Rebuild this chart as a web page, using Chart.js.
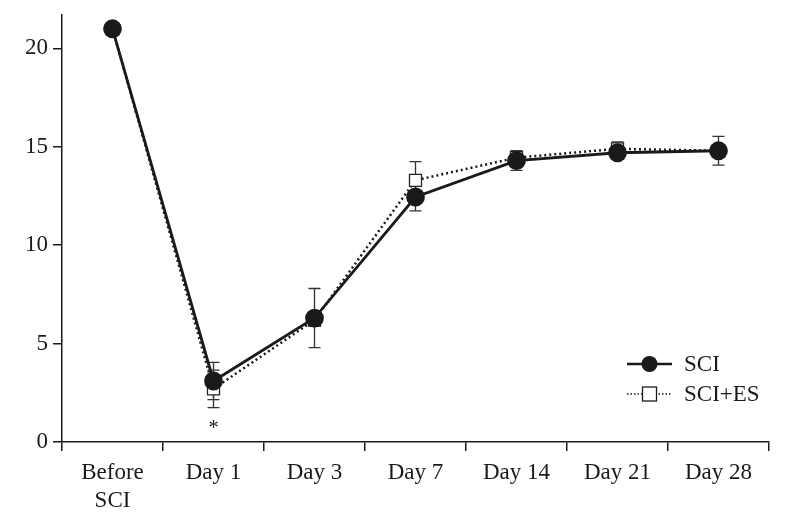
<!DOCTYPE html>
<html lang="en">
<head>
  <meta charset="UTF-8" />
  <title>SCI vs SCI+ES</title>
  <style>
    * { margin: 0; padding: 0; box-sizing: border-box; }
    body { background: #fff; width: 787px; height: 526px; overflow: hidden; }
    .chart-container { position: relative; width: 787px; height: 526px; }
  </style>
</head>
<body>
  <div class="chart-container">
    <canvas id="sciChart" width="787" height="526"></canvas>
  </div>
  <script src="https://cdn.jsdelivr.net/npm/chart.js"></script>
  <script>
    // Data
    const categories = [["Before", "SCI"], "Day 1", "Day 3", "Day 7", "Day 14", "Day 21", "Day 28"];
    const sciValues   = [21.0, 3.1, 6.3, 12.45, 14.3, 14.7, 14.8];
    const sciErrors   = [0.2, 0.95, 1.5, 0.7, 0.5, 0.3, 0.73];
    const sciEsValues = [21.0, 2.7, 6.2, 13.3, 14.45, 14.9, 14.8];
    const sciEsErrors = [0.2, 0.95, 0.3, 0.95, 0.3, 0.35, 0.3];
    const yTicks = [0, 5, 10, 15, 20];
    const yMax = 21.7;
    // significance marker: category index and value
    const starIndex = 1;
    const starValue = 0.9;

    const ink = "#1a1a1a";
    const serif = "'Liberation Serif', 'DejaVu Serif', serif";

    // error bars drawn behind the markers
    const errorBars = {
      id: "errorBars",
      beforeDatasetsDraw(chart) {
        const ctx = chart.ctx;
        const xs = chart.scales.x, ys = chart.scales.y;
        const sets = [[sciValues, sciErrors], [sciEsValues, sciEsErrors]];
        ctx.save();
        ctx.strokeStyle = "#333";
        ctx.lineWidth = 1.3;
        sets.forEach(([vals, errs]) => {
          vals.forEach((v, i) => {
            const x = xs.getPixelForValue(i);
            const top = ys.getPixelForValue(v + errs[i]);
            const bot = ys.getPixelForValue(v - errs[i]);
            ctx.beginPath();
            ctx.moveTo(x, top); ctx.lineTo(x, bot);
            ctx.moveTo(x - 6, top); ctx.lineTo(x + 6, top);
            ctx.moveTo(x - 6, bot); ctx.lineTo(x + 6, bot);
            ctx.stroke();
          });
        });
        ctx.restore();
      },
      afterDatasetsDraw(chart) {
        const ctx = chart.ctx;
        const xs = chart.scales.x, ys = chart.scales.y;
        ctx.save();
        ctx.fillStyle = ink;
        ctx.font = "20px " + serif;
        ctx.textAlign = "center";
        ctx.textBaseline = "middle";
        ctx.fillText("*", xs.getPixelForValue(starIndex), ys.getPixelForValue(starValue) + 4);
        ctx.restore();
      }
    };

    // legend: line with marker, lower right
    const lineLegend = {
      id: "lineLegend",
      afterDraw(chart) {
        const ctx = chart.ctx;
        const a = chart.chartArea;
        const x0 = a.right - 142, x1 = a.right - 97;
        const rows = [
          { y: a.top + 349, label: "SCI", dash: [], style: "circle", r: 8 },
          { y: a.top + 379, label: "SCI+ES", dash: [1.5, 2], style: "rect", r: 9 }
        ];
        ctx.save();
        rows.forEach(row => {
          ctx.strokeStyle = ink;
          ctx.lineWidth = row.dash.length ? 1.5 : 2.5;
          ctx.setLineDash(row.dash);
          ctx.beginPath();
          ctx.moveTo(x0, row.y); ctx.lineTo(x1, row.y);
          ctx.stroke();
          ctx.setLineDash([]);
          const cx = (x0 + x1) / 2;
          if (row.style === "circle") {
            ctx.fillStyle = ink;
            ctx.beginPath();
            ctx.arc(cx, row.y, row.r, 0, Math.PI * 2);
            ctx.fill();
          } else {
            ctx.fillStyle = "#fff";
            ctx.lineWidth = 1.3;
            ctx.fillRect(cx - 7, row.y - 7, 14, 14);
            ctx.strokeRect(cx - 7, row.y - 7, 14, 14);
          }
          ctx.fillStyle = ink;
          ctx.font = "23px " + serif;
          ctx.textAlign = "left";
          ctx.textBaseline = "middle";
          ctx.fillText(row.label, x1 + 12, row.y + 1);
        });
        ctx.restore();
      }
    };

    window.onload = () => {
      const ctx = document.getElementById("sciChart").getContext("2d");
      new Chart(ctx, {
        type: "line",
        data: {
          labels: categories,
          datasets: [
            {
              label: "SCI",
              data: sciValues,
              borderColor: ink,
              borderWidth: 2.8,
              pointStyle: "circle",
              pointRadius: 8,
              pointBackgroundColor: ink,
              pointBorderColor: ink,
              tension: 0
            },
            {
              label: "SCI+ES",
              data: sciEsValues,
              borderColor: ink,
              borderWidth: 2.5,
              borderDash: [2, 3],
              pointStyle: "rect",
              pointRadius: 8.5,
              pointBorderWidth: 1.3,
              pointBackgroundColor: "#fff",
              pointBorderColor: "#222",
              tension: 0
            }
          ]
        },
        options: {
          responsive: false,
          animation: false,
          events: [],
          layout: { padding: { top: 15, right: 18, left: 0, bottom: 0 } },
          scales: {
            x: {
              offset: true,
              border: { display: true, color: ink, width: 1.5 },
              grid: { display: true, offset: true, drawOnChartArea: false, tickLength: 9, color: ink, lineWidth: 1.5 },
              ticks: { color: ink, font: { family: serif, size: 23, lineHeight: 1.22 }, padding: 8, maxRotation: 0, autoSkip: false },
              afterFit(scale) { scale.height = 84; scale.paddingLeft = 0; scale.paddingRight = 0; }
            },
            y: {
              min: 0,
              max: yMax,
              border: { display: true, color: ink, width: 1.5 },
              grid: { display: true, drawOnChartArea: false, tickLength: 9, color: ink, lineWidth: 1.5 },
              ticks: { color: ink, font: { family: serif, size: 23 }, padding: 5 },
              afterBuildTicks(scale) { scale.ticks = yTicks.map(v => ({ value: v })); },
              afterFit(scale) { scale.width = 62; scale.paddingTop = 0; scale.paddingBottom = 0; }
            }
          },
          plugins: {
            legend: { display: false },
            tooltip: { enabled: false }
          }
        },
        plugins: [errorBars, lineLegend]
      });
    };
  </script>
</body>
</html>
